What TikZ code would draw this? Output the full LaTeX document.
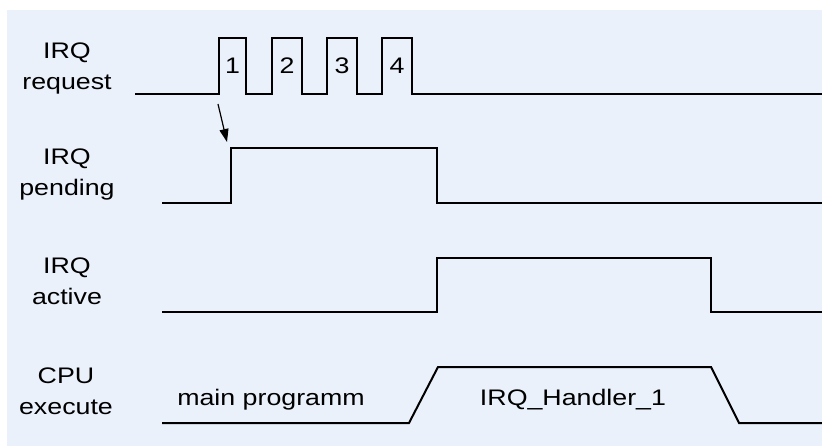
\documentclass[tikz,border=0pt]{standalone}
\usepackage{fontspec}
\setmainfont{Liberation Sans}
\usetikzlibrary{arrows.meta}
\definecolor{bgblue}{RGB}{234,241,251}

\begin{document}
\begin{tikzpicture}[x=1pt, y=-1pt, >={Triangle[length=13pt,width=9pt]},
  sig/.style={line width=2pt},
  lbl/.style={font=\fontsize{22.5}{31}\selectfont, align=center, inner sep=0pt, anchor=north, xscale=1.19},
  txt/.style={font=\fontsize{22.5}{27}\selectfont, inner sep=0pt, anchor=base, xscale=1.19}]
  \useasboundingbox (0,0) rectangle (822,446);
  \fill[bgblue] (7,10) rectangle (822,446);
  % signal names
  \node[lbl] (req) at (67,43) {IRQ\\request};
  \node[lbl] (pend) at (67,149) {IRQ\\pending};
  \node[lbl] (act) at (67,258) {IRQ\\active};
  \node[lbl] (cpu) at (66,368) {CPU\\execute};
  % waveforms
  \draw[sig] (135,94) foreach \a/\b in {219/246, 272/302, 327/357, 382/412} {
    -- (\a,94) -- (\a,38) -- (\b,38) -- (\b,94) } -- (822,94);
  \foreach \a/\b/\n in {219/246/1, 272/302/2, 327/357/3, 382/412/4}
    \node[txt] (num\n) at ({(\a+\b)/2},74) {\n};
  \draw[sig] (162,203) -- (231,203) -- (231,148) -- (437,148) -- (437,203) -- (822,203);
  \draw[sig] (162,312) -- (437,312) -- (437,258) -- (711,258) -- (711,312) -- (822,312);
  \draw[sig] (162,423) -- (409,423) -- (438,367) -- (711,367) -- (739,423) -- (822,423);
  \node[txt] (main) at (271,405) {main programm};
  \node[txt] (hdl) at (573,405) {IRQ\_Handler\_1};
  % latch of the first request
  \coordinate (trig) at (218,104);
  \coordinate (latch) at (227,142);
  \draw[->, line width=1.2pt] (trig) -- (latch);
\end{tikzpicture}
\end{document}
